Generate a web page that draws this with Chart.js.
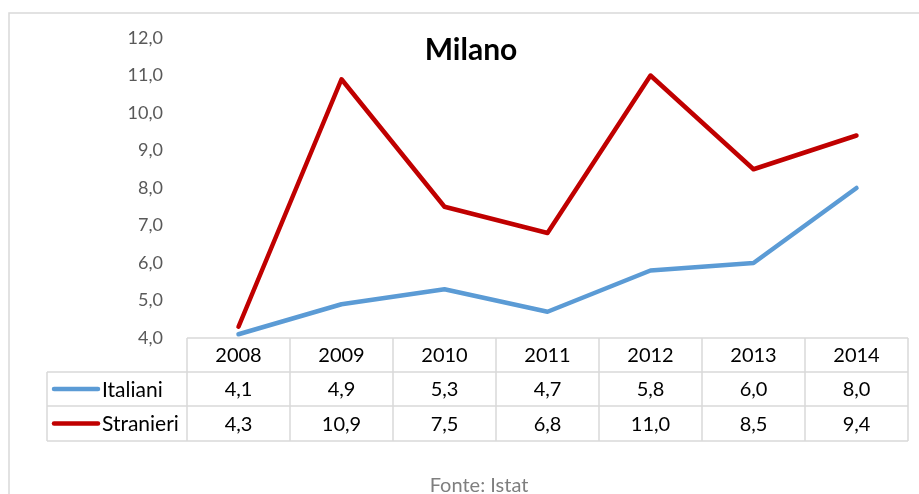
<!DOCTYPE html>
<html>
<head>
<meta charset="utf-8">
<script src="https://cdn.jsdelivr.net/npm/chart.js@4"></script>
<style>
    body { margin: 0; background: #fff; }
    #wrap { width: 919px; height: 494px; }
</style>
</head>
<body>
<div id="wrap"><canvas id="milanoChart" width="919" height="494"></canvas></div>
<script>
const years = ['2008', '2009', '2010', '2011', '2012', '2013', '2014'];
const italiani = [4.1, 4.9, 5.3, 4.7, 5.8, 6.0, 8.0];
const stranieri = [4.3, 10.9, 7.5, 6.8, 11.0, 8.5, 9.4];
const seriesNames = ['Italiani', 'Stranieri'];
const seriesColors = ['#5B9BD5', '#C00000'];
const chartTitle = 'Milano';
const sourceNote = 'Fonte: Istat';

const fmt = v => v.toFixed(1).replace('.', ',');

// draws frame, title, data table with legend keys and source
const tablePlugin = {
    id: 'dataTable',
    afterDraw(chart) {
        const ctx = chart.ctx;
        const x = chart.scales.x;
        const area = chart.chartArea;
        const half = (x.getPixelForValue(1) - x.getPixelForValue(0)) / 2;
        const rows = [area.bottom, area.bottom + 34, area.bottom + 68, area.bottom + 103];
        const left = x.getPixelForValue(0) - half;
        const right = x.getPixelForValue(years.length - 1) + half;
        const legendLeft = 47;

        ctx.save();
        // outer frame
        ctx.strokeStyle = '#d9d9d9';
        ctx.lineWidth = 1.5;
        ctx.strokeRect(9, 13, 1000, 1000);

        // title
        ctx.fillStyle = '#000';
        ctx.font = 'bold 30px Lato';
        ctx.textAlign = 'center';
        ctx.textBaseline = 'middle';
        ctx.fillText(chartTitle, 471, 50);

        // grid lines
        ctx.strokeStyle = '#d9d9d9';
        ctx.lineWidth = 1.5;
        ctx.beginPath();
        ctx.moveTo(left, rows[0]); ctx.lineTo(right, rows[0]);
        for (let r = 1; r < rows.length; r++) {
            ctx.moveTo(legendLeft, rows[r]); ctx.lineTo(right, rows[r]);
        }
        for (let i = 0; i <= years.length; i++) {
            const cx = left + i * half * 2;
            ctx.moveTo(cx, rows[0]); ctx.lineTo(cx, rows[3]);
        }
        ctx.moveTo(legendLeft, rows[1]); ctx.lineTo(legendLeft, rows[3]);
        ctx.stroke();

        // header and values
        ctx.font = '20px Lato';
        ctx.fillStyle = '#000';
        ctx.textAlign = 'center';
        const data = [italiani, stranieri];
        years.forEach((y, i) => {
            const cx = x.getPixelForValue(i);
            ctx.fillText(y, cx, (rows[0] + rows[1]) / 2 + 1);
            data.forEach((s, k) => {
                ctx.fillText(fmt(s[i]), cx, (rows[k + 1] + rows[k + 2]) / 2 + 1);
            });
        });

        // legend keys
        seriesNames.forEach((name, k) => {
            const cy = (rows[k + 1] + rows[k + 2]) / 2;
            ctx.strokeStyle = seriesColors[k];
            ctx.lineWidth = 4.5;
            ctx.lineCap = 'round';
            ctx.beginPath();
            ctx.moveTo(54, cy); ctx.lineTo(98, cy);
            ctx.stroke();
            ctx.fillStyle = '#000';
            ctx.textAlign = 'left';
            ctx.font = '21px Lato';
            ctx.fillText(name, 102, cy + 1);
        });

        // source
        ctx.fillStyle = '#7f7f7f';
        ctx.font = '20px Lato';
        ctx.textAlign = 'center';
        ctx.fillText(sourceNote, 479, 486);
        ctx.restore();
    }
};

new Chart(document.getElementById('milanoChart').getContext('2d'), {
    type: 'line',
    data: {
        labels: years,
        datasets: [
            {
                label: seriesNames[0],
                data: italiani,
                borderColor: seriesColors[0],
                borderWidth: 4.5,
                pointRadius: 0,
                tension: 0,
                borderCapStyle: 'round',
                borderJoinStyle: 'round'
            },
            {
                label: seriesNames[1],
                data: stranieri,
                borderColor: seriesColors[1],
                borderWidth: 4.5,
                pointRadius: 0,
                tension: 0,
                borderCapStyle: 'round',
                borderJoinStyle: 'round'
            }
        ]
    },
    options: {
        responsive: false,
        animation: false,
        layout: { padding: { left: 0, right: 11, top: 38, bottom: 156 } },
        plugins: {
            legend: { display: false },
            title: { display: false },
            tooltip: { enabled: false }
        },
        scales: {
            x: {
                display: false,
                offset: true
            },
            y: {
                min: 4,
                max: 12,
                afterFit: scale => { scale.width = 187; },
                border: { display: false },
                grid: { display: false, drawTicks: false },
                ticks: {
                    stepSize: 1,
                    padding: 24,
                    color: '#595959',
                    font: { family: 'Lato', size: 18 },
                    callback: v => fmt(v)
                }
            }
        }
    },
    plugins: [tablePlugin]
});
</script>
</body>
</html>
